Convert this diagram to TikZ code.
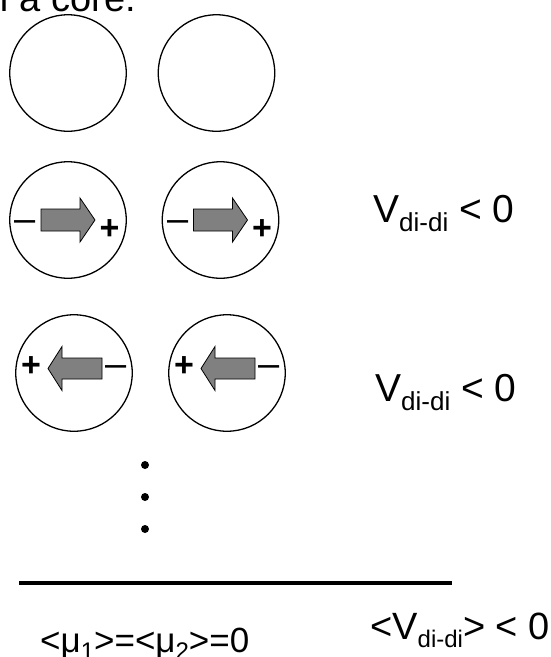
\documentclass[tikz,border=0pt]{standalone}
\usepackage{fontspec}
\setmainfont{Liberation Sans}
\begin{document}
\begin{tikzpicture}[x=1pt,y=-1pt,
  ball/.style={circle,draw,line width=1.3pt,minimum size=116.5pt,inner sep=0pt},
  dip/.style={draw=black,line width=0.8pt,fill=dipgray,line join=miter},
  lbl/.style={anchor=base west,inner sep=0pt,font=\fontsize{39}{39}\selectfont},
  plussign/.style={anchor=base,inner sep=0pt,font=\fontsize{34}{34}\selectfont\bfseries},
  minussign/.style={anchor=base,inner sep=0pt,font=\fontsize{38}{38}\selectfont},
  dotmark/.style={circle,fill=black,inner sep=0pt,minimum size=8pt}]
\definecolor{dipgray}{HTML}{808080}
\useasboundingbox (0,0) rectangle (550,657);
\clip (0,0) rectangle (550,657);

% top cut-off text
\node[anchor=base east,inner sep=0pt,font=\fontsize{38}{38}\selectfont] (toptext) at (136,11) {on a core.};

% row 1
\node[ball] (a1) at (68,73) {};
\node[ball] (a2) at (216.5,73) {};

% row 2
\node[ball] (b1) at (68,220) {};
\node[ball] (b2) at (220.5,220) {};
\foreach \c in {b1,b2}{
  \begin{scope}[shift={(\c.center)}]
    \draw[dip] (-27,-11) -- (12,-11) -- (12,-22) -- (27,0) -- (12,22) -- (12,11) -- (-27,11) -- cycle;
  \end{scope}
}
\node[minussign] (b1m) at (25.5,231.5) {–};
\node[plussign] (b1p) at (109.5,239) {+};
\node[minussign] (b2m) at (178,231.5) {–};
\node[plussign] (b2p) at (262,239) {+};
\node[lbl] (v1) at (373,222) {V\raisebox{-9pt}{\fontsize{26}{26}\selectfont di-di} < 0};

% row 3
\node[ball] (c1) at (74,373) {};
\node[ball] (c2) at (227,373) {};
\foreach \c in {c1,c2}{
  \begin{scope}[shift={(\c.center)}]
    \draw[dip] (28,-15) -- (-12,-15) -- (-12,-26.5) -- (-26,-4.5) -- (-12,17.5) -- (-12,6) -- (28,6) -- cycle;
  \end{scope}
}
\node[plussign] (c1p) at (31,376) {+};
\node[minussign] (c1m) at (116,376) {–};
\node[plussign] (c2p) at (184,376) {+};
\node[minussign] (c2m) at (269,376) {–};
\node[lbl] (v2) at (375,401) {V\raisebox{-9pt}{\fontsize{26}{26}\selectfont di-di} < 0};

% dots
\node[dotmark] (d1) at (145,465) {};
\node[dotmark] (d2) at (145,497) {};
\node[dotmark] (d3) at (145,529) {};

% line
\coordinate (l1) at (19,583);
\coordinate (l2) at (452,583);
\draw[line width=4pt] (l1) -- (l2);

% bottom texts
\node[anchor=base west,inner sep=0pt,font=\fontsize{35}{35}\selectfont] (mu) at (40,652)
  {<μ\raisebox{-7pt}{\fontsize{24}{24}\selectfont 1}>=<μ\raisebox{-7pt}{\fontsize{24}{24}\selectfont 2}>=0};
\node[anchor=base west,inner sep=0pt,font=\fontsize{38}{38}\selectfont] (vavg) at (370,639)
  {<V\raisebox{-8pt}{\fontsize{24}{24}\selectfont di-di}> < 0};
\end{tikzpicture}
\end{document}
